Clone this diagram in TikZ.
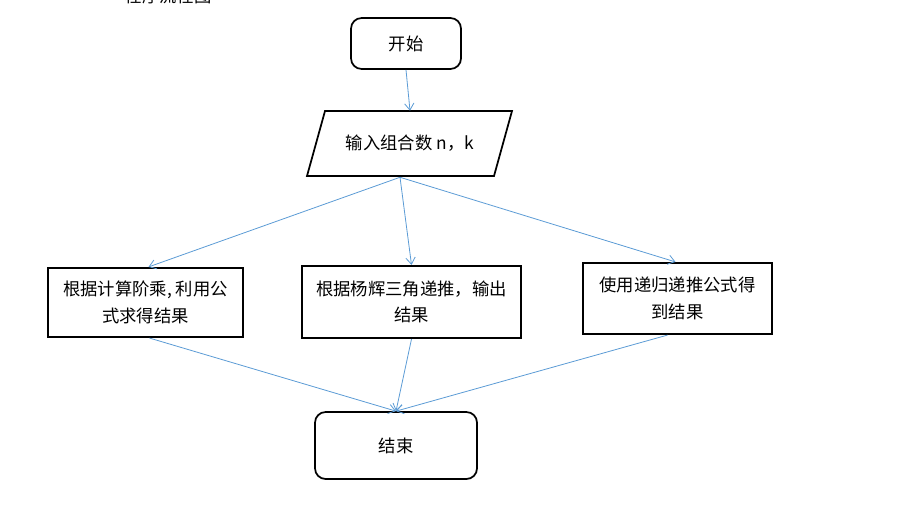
\documentclass[tikz,border=0pt]{standalone}
\usepackage{fontspec}
\setmainfont{Noto Sans CJK SC}
\usetikzlibrary{arrows.meta,calc}
\definecolor{flowblue}{HTML}{5B9BD5}
\tikzset{
    every node/.style={font=\fontsize{13}{20}\selectfont},
    terminal/.style={rectangle,rounded corners=8pt,draw=black,line width=1.3pt,fill=white},
    process/.style={rectangle,draw=black,line width=1.6pt,align=center,inner sep=2pt},
    iobox/.style={draw=black,line width=1.3pt},
    flow/.style={draw=flowblue,line width=0.6pt,-{Straight Barb[length=5pt,width=7pt]}}
}

\begin{document}
\begin{tikzpicture}[x=0.75pt,y=-0.75pt]
    \useasboundingbox (0,0) rectangle (902,521);
    \node (title) at (168,-4) {程序流程图};
    \node[terminal,minimum width=82.5pt,minimum height=38.25pt] (start) at (406,43.5) {开始};
    \node[minimum width=140pt,minimum height=48.75pt,inner sep=0pt] (input) at (410,143.5) {输入组合数 n，k};
    \draw[iobox] ($(input)+(-85,-32.5)$) -- ($(input)+(102,-32.5)$)
        -- ($(input)+(84,32.5)$) -- ($(input)+(-103,32.5)$) -- cycle;
    \node[process,minimum width=146.25pt,minimum height=51.75pt] (factorial) at (145.5,302.5) {根据计算阶乘, 利用公\\式求得结果};
    \node[process,minimum width=164.25pt,minimum height=54pt] (pascal) at (411.5,302) {根据杨辉三角递推，输出\\结果};
    \node[process,minimum width=141.75pt,minimum height=53.25pt] (recursive) at (677.5,298.5) {使用递归递推公式得\\到结果};
    \node[terminal,minimum width=121.5pt,minimum height=50.25pt] (finish) at (396,445.5) {结束};
    \coordinate (fork) at ($(input.south)+(-10,1)$);
    \draw[flow] (start.south) -- (input.north);
    \draw[flow] (fork) -- ($(factorial.north)+(3,0)$);
    \draw[flow] (fork) -- (pascal.north);
    \draw[flow] (fork) -- ($(recursive.north)+(-2,0)$);
    \draw[flow] ($(factorial.south)+(4,0)$) -- (finish.north);
    \draw[flow] (pascal.south) -- (finish.north);
    \draw[flow] ($(recursive.south)+(-10,0)$) -- (finish.north);
\end{tikzpicture}
\end{document}
